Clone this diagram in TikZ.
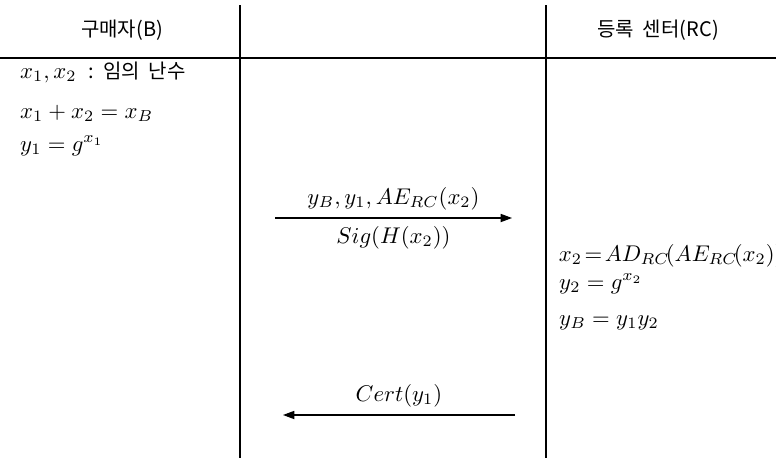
\documentclass[tikz,border=0pt]{standalone}
\usepackage{amsmath}
\usepackage{fontspec}
\newfontfamily\kofont{Noto Sans CJK KR}
\usetikzlibrary{arrows.meta}

\begin{document}
\begin{tikzpicture}[x=0.44pt, y=-0.44pt, >={Triangle[length=5pt, width=3.6pt]}, line width=0.5pt]
  \useasboundingbox (0,0) rectangle (776,458);
  \clip (0,0) rectangle (776,458);
  \coordinate (L1) at (240,5);
  \coordinate (L1b) at (240,458);
  \coordinate (L2) at (546,5);
  \coordinate (L2b) at (546,458);
  \coordinate (HL) at (0,58);
  \coordinate (HR) at (776,58);
  \draw (L1) -- (L1b);
  \draw (L2) -- (L2b);
  \draw (HL) -- (HR);
  \node[anchor=base] (buyer) at (122,36) {\kofont\fontsize{8.8}{10}\selectfont 구매자(B)};
  \node[anchor=base] (rc) at (658,36) {\kofont\fontsize{8.8}{10}\selectfont 등록\ \ 센터(RC)};
  \node[anchor=base west] (b1) at (12,78) {$x_1,x_2$ {\kofont\fontsize{8.8}{10}\selectfont\ :\ \ 임의\ \ 난수}};
  \node[anchor=base west] (b2) at (12,118) {$x_1+x_2=x_B$};
  \node[anchor=base west] (b3) at (12,151) {$y_1=g^{x_1}$};
  \coordinate (m1s) at (275,218);
  \coordinate (m1e) at (512,218);
  \draw[->] (m1s) -- (m1e) node[midway, above]{$y_B, y_1, AE_{RC}(x_2)$} node[midway, below]{$Sig(H(x_2))$};
  \node[anchor=base west, inner sep=1pt] (r1) at (556,261) {\thickmuskip=2mu $x_2=AD_{RC}\!(AE_{RC}\!(x_2))$};
  \node[anchor=base west] (r2) at (551,289) {$y_2=g^{x_2}$};
  \node[anchor=base west] (r3) at (551,325) {$y_B=y_1y_2$};
  \coordinate (m2s) at (515,415);
  \coordinate (m2e) at (283,415);
  \draw[->] (m2s) -- (m2e) node[midway, above]{$Cert(y_1)$};
\end{tikzpicture}
\end{document}
